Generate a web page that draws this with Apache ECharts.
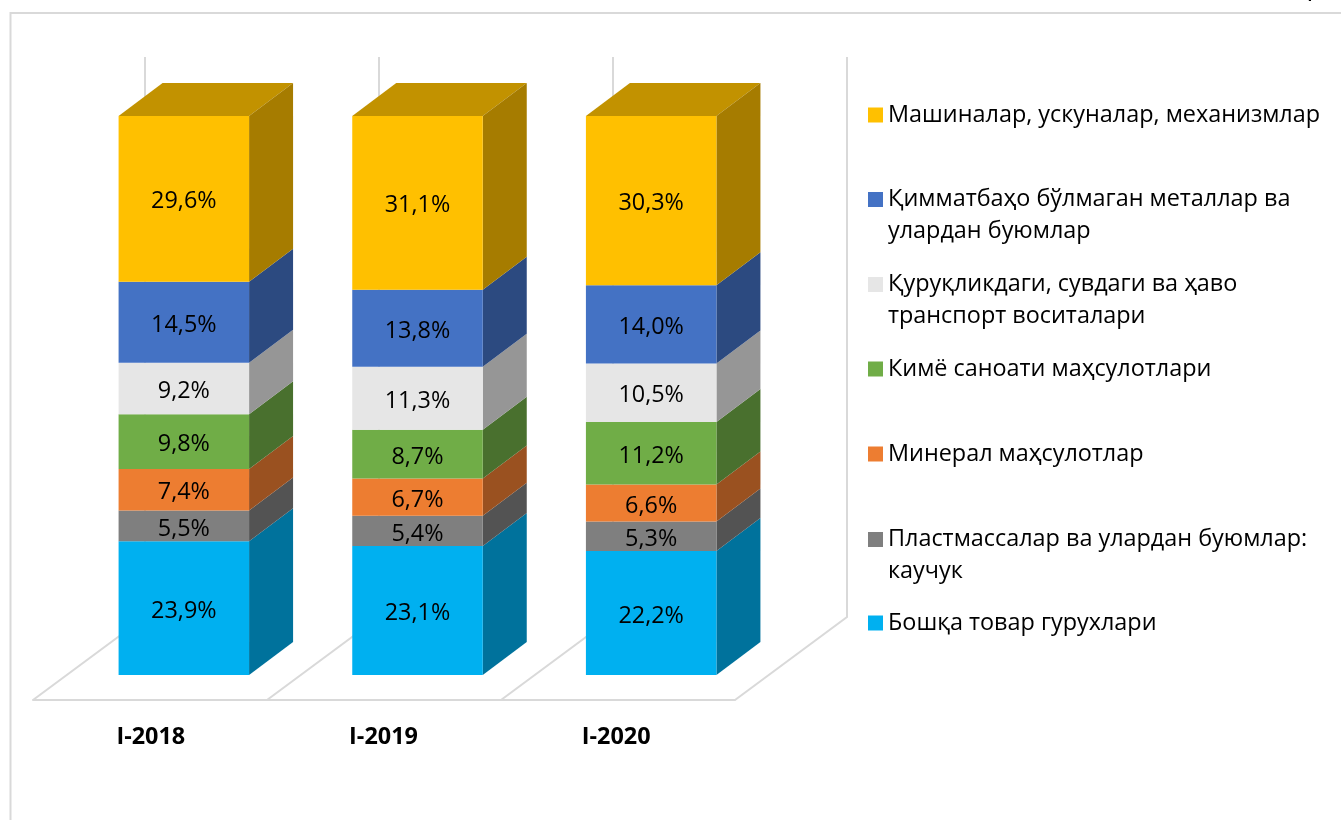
<!DOCTYPE html>
<html><head><meta charset="utf-8">
<style>html,body{margin:0;padding:0;background:#fff}#c{width:1341px;height:820px}</style>
<script src="https://cdn.jsdelivr.net/npm/echarts@6/dist/echarts.min.js"></script>
</head><body><div id="c"></div>
<script>
const categories = ['I-2018','I-2019','I-2020'];
const seriesNames = [
 'Бошқа товар гурухлари',
 'Пластмассалар ва улардан буюмлар: каучук',
 'Минерал маҳсулотлар',
 'Кимё саноати маҳсулотлари',
 'Қуруқликдаги, сувдаги ва ҳаво транспорт воситалари',
 'Қимматбаҳо бўлмаган металлар ва улардан буюмлар',
 'Машиналар, ускуналар, механизмлар'
];
const other     = [23.9,23.1,22.2];
const plastics  = [5.5,5.4,5.3];
const minerals  = [7.4,6.7,6.6];
const chemicals = [9.8,8.7,11.2];
const transport = [9.2,11.3,10.5];
const metals    = [14.5,13.8,14.0];
const machinery = [29.6,31.1,30.3];
const seriesValues = [other,plastics,minerals,chemicals,transport,metals,machinery];
const frontColors = ['#00B0F0','#7F7F7F','#ED7D31','#70AD47','#E6E6E6','#4472C4','#FFC000'];
const sideColors  = ['#00729C','#535353','#9A5120','#49702E','#969696','#2C4A80','#A67C00'];
const topColor = '#C29200';
const wrapped = {
 'Пластмассалар ва улардан буюмлар: каучук':'Пластмассалар ва улардан буюмлар:\nкаучук',
 'Қуруқликдаги, сувдаги ва ҳаво транспорт воситалари':'Қуруқликдаги, сувдаги ва ҳаво\nтранспорт воситалари',
 'Қимматбаҳо бўлмаган металлар ва улардан буюмлар':'Қимматбаҳо бўлмаган металлар ва\nулардан буюмлар'
};
const FONT = '"Open Sans"';
const FS = 23.4;
const TXT = '#000';
const LINE = '#D9D9D9';
const DX = 44, DY = 33, BAR = 130.5, FX = 112, FY = 83;
const totals = categories.map((_,i)=>seriesValues.reduce((s,a)=>s+a[i],0));

const barSeries = seriesValues.map((vals,si)=>({
  type:'custom', name:seriesNames[si], xAxisIndex:1, yAxisIndex:1, z:3+si,
  itemStyle:{color:frontColors[si]},
  data: vals.map((v,i)=>{
    let lo=0; for(let k=0;k<si;k++) lo+=seriesValues[k][i];
    return [i, lo/totals[i]*100, (lo+v)/totals[i]*100, v];
  }),
  encode:{x:0,y:[1,2]},
  renderItem(params,api){
    const p0=api.coord([api.value(0),api.value(1)]), p1=api.coord([api.value(0),api.value(2)]);
    const l=p0[0]-BAR/2, r=p0[0]+BAR/2, b=p0[1], t=p1[1];
    const kids=[
     {type:'polygon',shape:{points:[[r,b],[r+DX,b-DY],[r+DX,t-DY],[r,t]]},style:{fill:sideColors[si]}},
     {type:'rect',shape:{x:l,y:t,width:BAR,height:b-t},style:{fill:frontColors[si]}},
     {type:'text',x:p0[0],y:(t+b)/2+3,style:{text:api.value(3).toFixed(1).replace('.',',')+'%',fill:TXT,
       font:FS+'px '+FONT,align:'center',verticalAlign:'middle'}}
    ];
    if(si===seriesValues.length-1) kids.unshift({type:'polygon',shape:{points:[[l,t],[l+DX,t-DY],[r+DX,t-DY],[r,t]]},style:{fill:topColor}});
    return {type:'group',children:kids};
  }
}));

const wallSeries = {
  type:'custom', silent:true, z:1, xAxisIndex:0, yAxisIndex:0, legendHoverLink:false,
  data:[0,1,2,3].map(i=>[i]),
  encode:{x:0},
  renderItem(params,api){
    const i=api.value(0), w=api.size([1,0])[0];
    const f=api.coord([0,0]);
    const x=f[0]-w/2+i*w, y=f[1];
    const top=api.coord([0,100])[1];
    const st={stroke:LINE,lineWidth:2,fill:null};
    return {type:'group',children:[
     {type:'polyline',shape:{points:[[x,y],[x+FX,y-FY],[x+FX,top]]},style:st}
    ]};
  }
};

const legendTops = [99,183,268,353,438,523,607];
const SQ2 = 'path://M0 0H15V15H0Z M0 46H15V46H0Z';
const legends = seriesNames.slice().reverse().map((n,i)=>({
  show:true, orient:'vertical', left:868, top:legendTops[i], padding:0,
  data:[n], selectedMode:false,
  itemWidth:15, itemHeight: wrapped[n]?46:15, itemGap:0,
  icon: wrapped[n]?SQ2:'rect',
  formatter:name=>wrapped[name]||name,
  textStyle:{fontFamily:FONT,fontSize:FS,color:TXT,lineHeight:32}
}));

const chart=echarts.init(document.getElementById('c'),null,{renderer:'canvas'});
chart.setOption({
  animation:false, backgroundColor:'#fff',
  legend:legends,
  graphic:[
   {type:'polyline',silent:true,shape:{points:[[10.5,820],[10.5,13],[1341,13]]},style:{stroke:LINE,lineWidth:2,fill:null}},
   {type:'text',silent:true,x:1331,y:0,style:{text:'(млн. доллар)',font:'27px '+FONT,fill:TXT,align:'right',verticalAlign:'bottom'}}
  ],
  grid:[
   {left:33,width:702,top:57,height:643},
   {left:67,width:701,top:116,height:559},
   {left:34.5,width:698,top:57,height:643}
  ],
  xAxis:[
   {type:'category',gridIndex:0,data:categories,
    axisLine:{show:true,lineStyle:{color:LINE,width:2}},axisTick:{show:false},axisLabel:{show:false}},
   {type:'category',gridIndex:1,data:categories,show:false},
   {type:'category',gridIndex:2,data:categories,
    axisLine:{show:false},axisTick:{show:false},
    axisLabel:{fontFamily:FONT,fontSize:FS,fontWeight:'bold',color:TXT,margin:26}}
  ],
  yAxis:[
   {type:'value',gridIndex:0,min:0,max:100,show:false},
   {type:'value',gridIndex:1,min:0,max:100,show:false},
   {type:'value',gridIndex:2,min:0,max:100,show:false}
  ],
  series:[wallSeries,...barSeries]
});
</script></body></html>
